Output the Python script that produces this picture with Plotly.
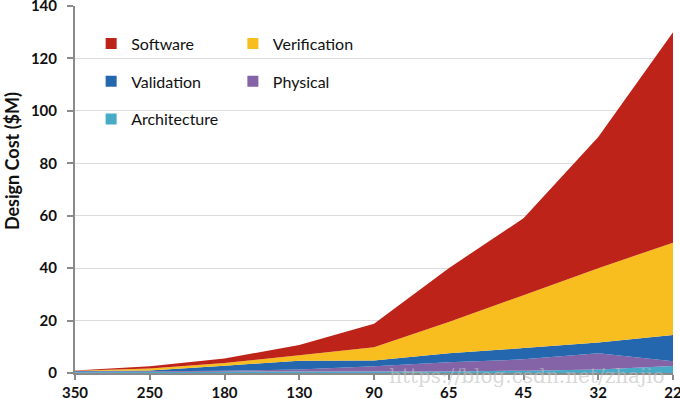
import plotly.graph_objects as go

nodes = ["350", "250", "180", "130", "90", "65", "45", "32", "22"]
# individual layer values ($M), stacked bottom to top
architecture = [0.3, 0.4, 0.5, 0.6, 0.6, 0.6, 0.9, 1.3, 2.7]
physical = [0.2, 0.3, 0.4, 0.7, 2.0, 3.5, 4.3, 6.2, 1.8]
validation = [0.3, 0.3, 1.9, 3.4, 2.2, 3.4, 4.3, 4.1, 10.0]
verification = [0.1, 0.7, 1.0, 2.1, 5.0, 12.0, 20.2, 28.4, 35.2]
software = [0.1, 0.9, 1.7, 3.9, 9.0, 20.5, 29.3, 50.0, 80.3]

series = [
    ("Architecture", architecture, "#47ABC8", "legend", 3),
    ("Physical", physical, "#8563A7", "legend2", 2),
    ("Validation", validation, "#2467AF", "legend", 2),
    ("Verification", verification, "#F8BD1E", "legend2", 1),
    ("Software", software, "#BE2319", "legend", 1),
]

FONT = "Lato, Open Sans, sans-serif"

fig = go.Figure()
for name, vals, color, leg, rank in series:
    fig.add_trace(go.Scatter(
        x=nodes, y=vals, name=name, stackgroup="one", mode="none",
        fillcolor=color, line=dict(width=0), showlegend=False,
        legendgroup=name,
    ))
# legend entries with square swatches
for name, vals, color, leg, rank in series:
    fig.add_trace(go.Scatter(
        x=[None], y=[None], name=name, mode="markers",
        marker=dict(symbol="square", size=11, color=color),
        legend=leg, legendrank=rank, legendgroup=name, showlegend=True,
    ))

legend_common = dict(
    bgcolor="rgba(0,0,0,0)", traceorder="grouped", tracegroupgap=14,
    font=dict(family=FONT, size=16, color="#111"),
    xanchor="left", yanchor="top", itemwidth=30,
)

axis_font = dict(family=FONT, size=15, color="#111", weight="bold")

fig.update_layout(
    width=680, height=399,
    margin=dict(l=75, r=7, t=6, b=26, autoexpand=False),
    paper_bgcolor="white", plot_bgcolor="white",
    showlegend=True,
    legend=dict(x=0.027, y=0.944, **legend_common),
    legend2=dict(x=0.264, y=0.944, **legend_common),
    xaxis=dict(
        type="category", range=[0, 8], showgrid=False, automargin=False,
        showline=True, linecolor="#8a8a8a", linewidth=2,
        ticks="outside", ticklen=5, tickcolor="#8a8a8a", tickwidth=2,
        tickfont=axis_font, ticklabeloverflow="allow",
    ),
    yaxis=dict(
        range=[0, 140], dtick=20, showgrid=True, gridcolor="#dcdcdc", gridwidth=1,
        showline=True, linecolor="#8a8a8a", linewidth=2, automargin=False,
        ticks="outside", ticklen=6, tickcolor="#8a8a8a", tickwidth=2,
        tickfont=axis_font, ticklabeloverflow="allow", ticklabelstandoff=7,
        zeroline=False,
    ),
)

fig.add_annotation(
    text="<b>Design Cost ($M)</b>", xref="paper", yref="paper",
    x=-0.105, y=0.578, xanchor="center", yanchor="middle", textangle=-90,
    showarrow=False, font=dict(family=FONT, size=18, color="#111"),
)

fig.add_annotation(
    text="https://blog.csdn.net/zhajio", xref="paper", yref="paper",
    x=0.99, y=-0.008, xanchor="right", yanchor="middle", showarrow=False,
    font=dict(family="DejaVu Serif, serif", size=20, color="rgba(190,190,190,0.6)"),
)

fig.write_html(
    "out.html",
    config={"displayModeBar": False},
    post_script="document.body.style.margin='0px';",
)
